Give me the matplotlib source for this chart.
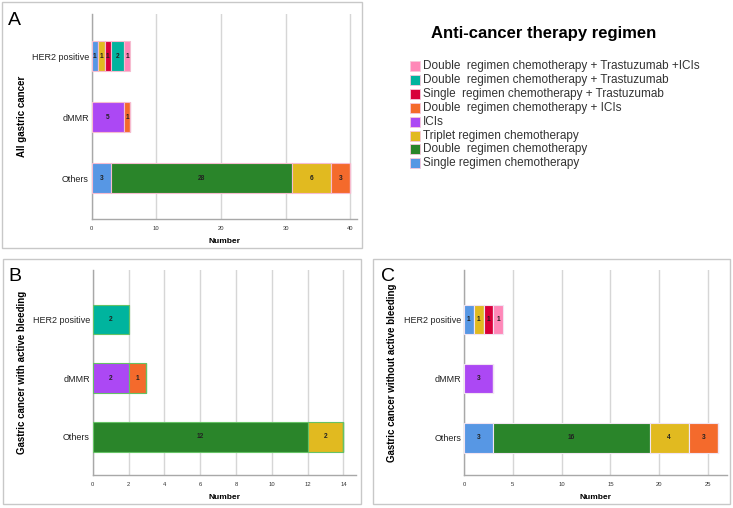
import matplotlib
matplotlib.use("Agg")
import matplotlib.pyplot as plt
from matplotlib.patches import Rectangle

plt.rcParams['font.family'] = ['Liberation Sans', 'DejaVu Sans']

# categories (top to bottom) and regimens in stacking order
groups = ['HER2 positive', 'dMMR', 'Others']
regimens = ['Single regimen chemotherapy',
            'Double  regimen chemotherapy',
            'Triplet regimen chemotherapy',
            'ICIs',
            'Double  regimen chemotherapy + ICIs',
            'Single  regimen chemotherapy + Trastuzumab',
            'Double  regimen chemotherapy + Trastuzumab',
            'Double  regimen chemotherapy + Trastuzumab +ICIs']
colors = ['#5797E4', '#2A852A', '#E1BA20', '#AC48F4',
          '#F46A2C', '#D8003A', '#00B49E', '#FF88B8']

# counts per regimen, in order HER2 positive, dMMR, Others
all_gc = [[1, 0, 3], [0, 0, 28], [1, 0, 6], [0, 5, 0],
          [0, 1, 3], [1, 0, 0], [2, 0, 0], [1, 0, 0]]
bleeding = [[0, 0, 0], [0, 0, 12], [0, 0, 2], [0, 2, 0],
            [0, 1, 0], [0, 0, 0], [2, 0, 0], [0, 0, 0]]
no_bleeding = [[1, 0, 3], [0, 0, 16], [1, 0, 4], [0, 3, 0],
               [0, 0, 3], [1, 0, 0], [0, 0, 0], [1, 0, 0]]

fig = plt.figure(figsize=(7.33, 5.08), dpi=100)
W, H = 733, 508


def px_rect(x0, y0, x1, y1):
    # pixel box (top-left origin) -> figure fraction [l, b, w, h]
    return [x0 / W, 1 - y1 / H, (x1 - x0) / W, (y1 - y0) / H]


def panel(rect, data, xmax, xticks, ylim, ylabel, edge, ylab_x):
    ax = fig.add_axes(px_rect(*rect))
    left = [0, 0, 0]
    for vals, c in zip(data, colors):
        bars = ax.barh(range(3), vals, left=left, height=0.5, color=c,
                       edgecolor=edge, linewidth=0.8, zorder=3)
        labels = [str(v) if v > 0 else '' for v in vals]
        ax.bar_label(bars, labels=labels, label_type='center',
                     fontsize=4.8, fontweight='bold', color='#222222')
        left = [a + b for a, b in zip(left, vals)]
    ax.set_xlim(0, xmax)
    ax.set_ylim(*ylim)
    ax.set_yticks(range(3))
    ax.set_yticklabels(groups, fontsize=6.5, color='#222222')
    ax.set_xticks(xticks)
    ax.tick_params(axis='x', labelsize=4.2, length=0, pad=5, colors='#333333')
    ax.tick_params(axis='y', length=0, pad=2)
    ax.grid(axis='x', color='#D6D6D6', linewidth=1, zorder=0)
    for s in ['top', 'right']:
        ax.spines[s].set_visible(False)
    for s in ['left', 'bottom']:
        ax.spines[s].set_color('#A8A8A8')
        ax.spines[s].set_linewidth(1)
    ax.set_xlabel('Number', fontsize=6, fontweight='bold', labelpad=5)
    ax.set_ylabel(ylabel, fontsize=7, fontweight='bold')
    ax.yaxis.set_label_coords(ylab_x, 0.5)
    return ax


# panel frames
for box in [(1.5, 2, 362, 248), (2.5, 259, 361, 504), (372.5, 259, 730, 504)]:
    x0, y0, x1, y1 = box
    fig.add_artist(Rectangle((x0 / W, 1 - y1 / H), (x1 - x0) / W, (y1 - y0) / H,
                             transform=fig.transFigure, fill=False,
                             edgecolor='#C8C8C8', linewidth=1))

panel((91.7, 14, 357.3, 219), all_gc, 41.1, [0, 10, 20, 30, 40],
      (2.67, -0.69), 'All gastric cancer', '#F6BCD0', -0.244)
panel((92.7, 270, 356, 475), bleeding, 14.7, range(0, 15, 2),
      (2.65, -0.84), 'Gastric cancer with active bleeding', '#66C266', -0.25)
panel((464, 270, 726.7, 475), no_bleeding, 26.9, range(0, 26, 5),
      (2.63, -0.84), 'Gastric cancer without active bleeding', '#F2E4F2', -0.256)

# panel letters
for letter, x, y in [('A', 8, 25), ('B', 8, 281), ('C', 381, 281)]:
    fig.text(x / W, 1 - y / H, letter, fontsize=14, va='baseline', ha='left')

# legend
fig.text(544 / W, 1 - 38 / H, 'Anti-cancer therapy regimen', fontsize=12,
         fontweight='bold', ha='center', va='baseline')
row_y = 66
for name, c in zip(regimens[::-1], colors[::-1]):
    fig.add_artist(Rectangle((409.5 / W, 1 - (row_y + 5) / H), 10 / W, 10 / H,
                             transform=fig.transFigure, facecolor=c,
                             edgecolor='#F8C8DC', linewidth=0.6))
    fig.text(423 / W, 1 - row_y / H, name, fontsize=8.45, color='#333333',
             ha='left', va='center')
    row_y += 13.9

fig.savefig('out.png', dpi=100)
